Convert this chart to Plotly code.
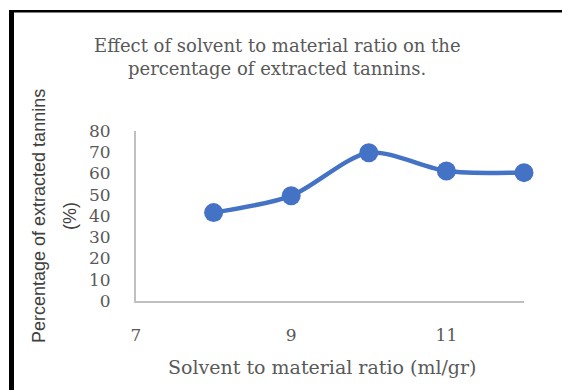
import plotly.graph_objects as go

# Extraction yield at each solvent-to-material ratio
ratio = [8, 9, 10, 11, 12]
tannins_pct = [41.6, 49.5, 69.8, 61.2, 60.4]

x_ticks = [7, 9, 11]
y_ticks = [0, 10, 20, 30, 40, 50, 60, 70, 80]

W, H = 562, 390
L, R, T, B = 136, 38, 131, 89  # plot area margins in px
PW, PH = W - L - R, H - T - B


def px(xp):
    return (xp - L) / PW


def py(yp):
    return (H - B - yp) / PH


SERIF = "DejaVu Serif, serif"
SANS = "Liberation Sans, Arial, sans-serif"
GREY = "#595959"

fig = go.Figure()
fig.add_trace(go.Scatter(
    x=ratio, y=tannins_pct,
    mode="lines+markers",
    line=dict(color="#4472C4", width=4.5, shape="spline", smoothing=0.8),
    marker=dict(color="#4472C4", size=19),
    cliponaxis=False,
    showlegend=False,
))

fig.update_layout(
    width=W, height=H,
    margin=dict(l=L, r=R, t=T, b=B),
    paper_bgcolor="white", plot_bgcolor="white",
    xaxis=dict(
        range=[7, 12], tickvals=x_ticks, ticktext=[str(v) for v in x_ticks],
        showgrid=False, zeroline=False, showline=True,
        linecolor="#c0c0c0", linewidth=2,
        ticks="", ticklabelstandoff=18,
        tickfont=dict(family=SERIF, size=17, color=GREY),
    ),
    yaxis=dict(
        range=[0, 80], tickvals=y_ticks,
        showgrid=False, zeroline=False, showline=True,
        linecolor="#c0c0c0", linewidth=2,
        ticks="", ticklabelstandoff=20,
        tickfont=dict(family=SERIF, size=17, color=GREY),
    ),
)

annotations = [
    dict(text="Effect of solvent to material ratio on the", x=px(277), y=py(45),
         font=dict(family=SERIF, size=18, color=GREY)),
    dict(text="percentage of extracted tannins.", x=px(277), y=py(68),
         font=dict(family=SERIF, size=18, color=GREY)),
    dict(text="Solvent to material ratio (ml/gr)", x=px(322), y=py(367),
         font=dict(family=SERIF, size=19, color=GREY)),
    dict(text="Percentage of extracted tannins", x=px(39), y=py(216), textangle=-90,
         font=dict(family=SANS, size=18, color="#404040")),
    dict(text="(%)", x=px(70), y=py(216), textangle=-90,
         font=dict(family=SANS, size=18, color="#404040")),
]
for a in annotations:
    fig.add_annotation(xref="paper", yref="paper", showarrow=False,
                       xanchor="center", yanchor="middle", **a)

# Frame edges on the left and top of the figure
fig.add_shape(type="rect", xref="paper", yref="paper",
              x0=px(9), x1=px(14), y0=py(H + 2), y1=py(10),
              fillcolor="black", line=dict(width=0), layer="above")
fig.add_shape(type="rect", xref="paper", yref="paper",
              x0=px(9), x1=px(W + 2), y0=py(12.5), y1=py(10),
              fillcolor="black", line=dict(width=0), layer="above")

fig.write_html("out.html")
